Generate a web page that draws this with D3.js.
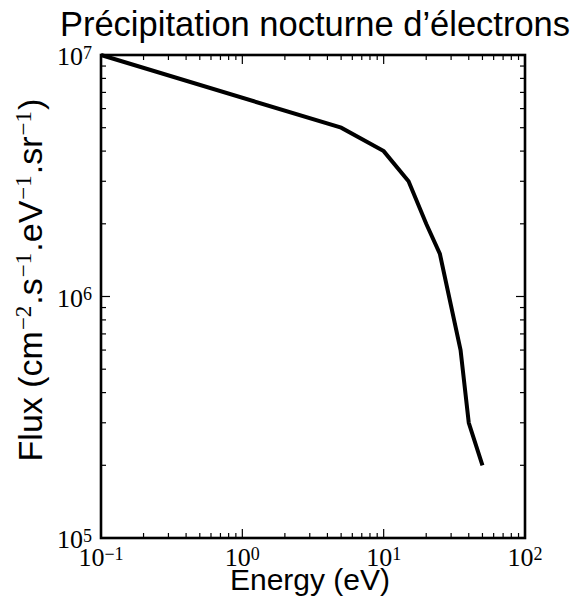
<!DOCTYPE html>
<html><head><meta charset="utf-8">
<script src="https://cdn.jsdelivr.net/npm/d3@7"></script>
<style>body{margin:0;background:#fff}</style>
</head><body>
<svg id="c" width="577" height="604"></svg>
<script>
const energy = [0.1, 5, 10, 15, 20, 25, 35, 40, 50];
const flux   = [1e7, 5e6, 4e6, 3e6, 2e6, 1.5e6, 6e5, 3e5, 2e5];
const xDomain = [0.1, 100];
const yDomain = [1e5, 1e7];
const xTickExps = [-1, 0, 1, 2];
const yTickExps = [5, 6, 7];
const titleText = "Précipitation nocturne d’électrons";
const xLabelText = "Energy (eV)";

const m = {l:101, t:55, r:52, b:66};
const W = 577, H = 604;
const w = W - m.l - m.r, h = H - m.t - m.b;
const svg = d3.select("#c");
const g = svg.append("g").attr("transform", `translate(${m.l},${m.t})`);
const x = d3.scaleLog().domain(xDomain).range([0, w]);
const y = d3.scaleLog().domain(yDomain).range([h, 0]);

function ticksFor(domain){
  const major=[], minor=[];
  const a=Math.round(Math.log10(domain[0])), b=Math.round(Math.log10(domain[1]));
  for(let e=a;e<=b;e++){ major.push(Math.pow(10,e)); if(e<b) for(let k=2;k<=9;k++) minor.push(k*Math.pow(10,e)); }
  return {major, minor};
}
const xt = ticksFor(xDomain), yt = ticksFor(yDomain);
const tk = g.append("g").attr("stroke","#000").attr("stroke-width",1.2);
const MAJ=9, MIN=5;
xt.major.concat(xt.minor).forEach(v=>{
  const L = xt.major.includes(v)?MAJ:MIN, px=x(v);
  tk.append("line").attr("x1",px).attr("x2",px).attr("y1",h).attr("y2",h-L);
  tk.append("line").attr("x1",px).attr("x2",px).attr("y1",0).attr("y2",L);
});
yt.major.concat(yt.minor).forEach(v=>{
  const L = yt.major.includes(v)?MAJ:MIN, py=y(v);
  tk.append("line").attr("y1",py).attr("y2",py).attr("x1",0).attr("x2",L);
  tk.append("line").attr("y1",py).attr("y2",py).attr("x1",w).attr("x2",w-L);
});

g.append("path").datum(energy.map((e,i)=>[e,flux[i]]))
  .attr("fill","none").attr("stroke","#000").attr("stroke-width",4)
  .attr("stroke-linejoin","miter")
  .attr("d", d3.line().x(d=>x(d[0])).y(d=>y(d[1])));

g.append("rect").attr("width",w).attr("height",h).attr("fill","none")
  .attr("stroke","#000").attr("stroke-width",2.6);

const serif = "'Liberation Serif', 'DejaVu Serif', serif";
function powLabel(sel, e){
  sel.append("tspan").text("10");
  sel.append("tspan").attr("dy",-6.5).attr("font-size",18).text(e<0?"−"+(-e):String(e));
}
xTickExps.forEach(e=>{
  const t = g.append("text").attr("x", x(Math.pow(10,e))).attr("y", h+28)
    .attr("text-anchor","middle").attr("font-family",serif).attr("font-size",26);
  powLabel(t,e);
});
yTickExps.forEach(e=>{
  const t = g.append("text").attr("x", -9).attr("y", y(Math.pow(10,e))+10)
    .attr("text-anchor","end").attr("font-family",serif).attr("font-size",26);
  powLabel(t,e);
});

const sans = "'Liberation Sans', Arial, sans-serif";
svg.append("text").attr("x", m.l + w/2 + 2).attr("y", 36).attr("text-anchor","middle")
  .attr("font-family",sans).attr("font-size",34.5).text(titleText);
svg.append("text").attr("x", 310).attr("y", 590).attr("text-anchor","middle")
  .attr("font-family",sans).attr("font-size",30).text(xLabelText);
const yl = svg.append("text").attr("transform",`translate(42,280) rotate(-90)`)
  .attr("text-anchor","middle").attr("font-family",sans).attr("font-size",34);
const parts = [["Flux (cm","−2"],[".s","−1"],[".eV","−1"],[".sr","−1"],[")",null]];
let up=false;
parts.forEach(([txt,sup])=>{
  const a = yl.append("tspan").text(txt);
  if(up){ a.attr("dy",11).attr("dx",1); up=false; }
  if(sup){ yl.append("tspan").attr("dy",-11).attr("dx",1).attr("font-family",serif).attr("font-size",23).text(sup); up=true; }
});
</script>
</body></html>
